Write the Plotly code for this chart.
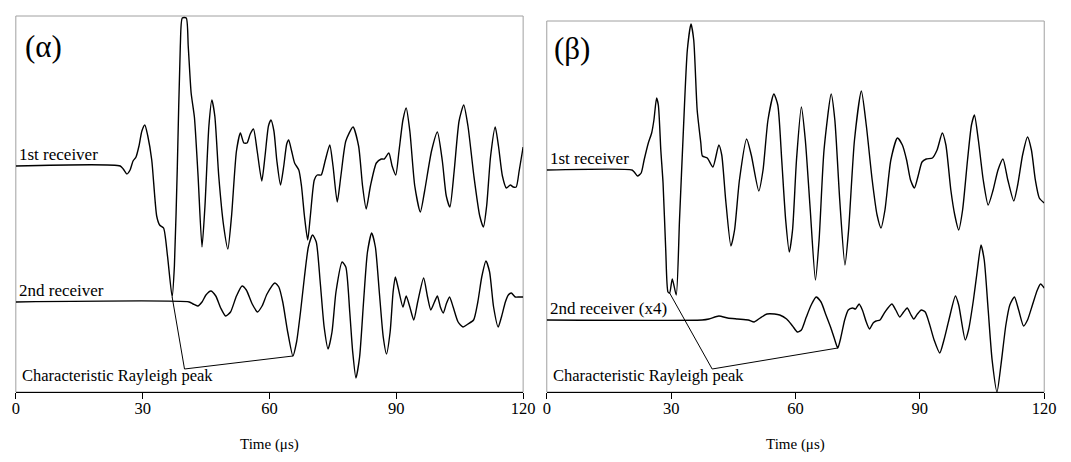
import numpy as np
import plotly.graph_objects as go

# ---------------------------------------------------------------------------
# Recorded waveforms: time in microseconds, amplitude in arbitrary units
# ---------------------------------------------------------------------------

# Panel (α) - 1st receiver
t_a1 = [0, 24.7, 25.4, 26.26, 27.03, 27.73, 28.43, 29.13, 29.82, 30.52, 31.22, 32.15,
        33.32, 34.02, 34.95, 35.88, 36.98, 37.51, 38.21, 38.91, 39.38, 40.31, 40.78,
        41.47, 42.24, 43.11, 44.04, 44.74, 45.67, 46.37, 47.07, 48.0, 49.16, 50.16,
        51.03, 52.19, 53.12, 53.94, 54.69, 55.45, 56.22, 57.09, 58.18, 58.95, 59.76,
        60.35, 61.05, 61.75, 62.61, 63.38, 64.08, 64.54, 65.24, 65.94, 66.94, 67.57,
        68.27, 69.04, 69.67, 70.6, 71.3, 72.23, 73.16, 74.26, 75.03, 76.03, 76.89,
        78.06, 79.76, 81.08, 82.02, 82.88, 83.88, 85.28, 86.44, 87.14, 88.24, 89.01,
        89.87, 90.64, 91.57, 92.34, 93.2, 94.37, 95.69, 96.7, 98.33, 99.72, 100.89,
        101.82, 102.68, 103.69, 104.85, 105.95, 106.95, 108.35, 109.74, 110.61, 111.37,
        112.31, 113.4, 114.17, 115.1, 116.03, 116.97, 117.67, 118.36, 119.06, 120.0]
v_a1 = [0, 0, -3, -8, -4, 5, 9, 20, 35, 41, 30, 6,
        -50, -59, -62, -90, -131, -100, 0, 120, 148, 148, 120,
        73, 49, -10, -81, -40, 40, 66, 50, -10, -60, -83,
        -50, 15, 33, 23, 23, 32, 37, 15, -15, 10, 40,
        46, 35, 5, -19, 0, 22, 26, 15, 3, -4, -20,
        -50, -74, -50, -14, -9, -9, 5, 21, 0, -36, -10,
        25, 39, 20, -20, -43, -20, 3, 7, 7, 13, 0,
        -9, 15, 46, 58, 35, -20, -46, -25, 15, 34, 5,
        -30, -41, -5, 45, 61, 40, -10, -50, -61, -40,
        10, 39, 20, -10, -22, -19, -21, -21, -5, 19]

# Panel (α) - 2nd receiver
t_a2 = [0, 41.01, 41.94, 43.04, 44.04, 44.97, 46.13, 47.3, 48.46, 49.63, 50.79, 52.19,
        53.52, 54.52, 55.92, 57.15, 58.25, 59.42, 61.28, 62.21, 63.14, 64.31, 65.54,
        66.41, 67.34, 68.27, 69.2, 70.2, 71.07, 72.0, 72.93, 73.86, 74.79, 75.73,
        77.19, 78.06, 78.99, 79.69, 80.45, 81.32, 82.25, 83.18, 84.18, 85.05, 85.98,
        86.91, 87.68, 88.54, 89.24, 89.77, 90.4, 91.57, 92.34, 93.2, 94.13, 95.06,
        96.46, 97.39, 98.16, 99.03, 99.72, 100.42, 101.12, 101.82, 102.59, 103.45,
        104.62, 105.78, 106.95, 108.28, 109.28, 110.21, 111.21, 112.07, 113.01, 114.1,
        114.87, 115.8, 116.5, 117.2, 118.13, 119.06, 120.0]
v_a2 = [0, 0, -2, -4, 0, 7, 11, 6, -6, -14, -10, 6,
        16, 12, -2, -10, -4, 8, 19, 15, 0, -30, -54,
        -40, -10, 25, 55, 67, 60, 20, -25, -47, -30, 10,
        40, 35, -10, -50, -76, -55, 0, 50, 69, 55, 10,
        -35, -52, -30, 10, 25, 15, -5, 6, -5, -18, 0,
        24, 5, -8, 0, 6, -5, -11, -2, 5, -5,
        -20, -25, -22, -18, 0, 25, 41, 30, -5, -25,
        -15, 0, 7, 9, 5, 5, 5]

# Panel (β) - 1st receiver
t_b1 = [0, 20.56, 21.11, 21.89, 22.77, 23.48, 24.5, 25.3, 25.85, 26.49, 26.92, 27.51,
        28.05, 28.7, 29.24, 29.64, 30.28, 31.23, 32.02, 32.96, 33.91, 34.79, 35.45,
        36.28, 37.16, 37.54, 38.73, 40.08, 41.5, 42.21, 43.16, 44.42, 45.3, 46.48,
        48.21, 49.33, 51.15, 52.17, 53.36, 54.78, 55.73, 56.68, 57.63, 58.5, 59.29,
        60.24, 61.42, 62.37, 63.56, 64.81, 65.69, 66.88, 68.61, 69.49, 70.67, 71.93,
        72.81, 74.23, 75.89, 77.07, 78.5, 79.68, 80.63, 81.58, 83.0, 84.59, 85.78,
        86.8, 87.75, 88.69, 89.64, 90.52, 91.54, 93.03, 94.15, 95.41, 96.28, 97.47,
        98.42, 99.37, 100.31, 101.5, 102.45, 103.16, 104.11, 105.29, 106.48, 107.67,
        108.85, 110.04, 111.22, 112.65, 113.6, 114.78, 115.97, 116.91, 117.86, 118.81,
        120.0]
v_b1 = [0, 0, -2, -6, -3, 10, 27, 37, 50, 72, 65, 20,
        -13, -80, -122, -123, -109, -125, -50, 40, 120, 146, 130,
        60, 27, 14, 12, 3, 25, 15, -30, -76, -60, -10,
        31, 15, -21, 0, 50, 76, 65, 10, -50, -82, -60,
        10, 63, 30, -40, -110, -70, 20, 76, 50, -30, -95,
        -60, 30, 79, 45, -10, -45, -58, -40, 10, 32, 25,
        10, -10, -18, -5, 8, 11, 12, 20, 37, 25, -20,
        -45, -60, -40, 10, 45, 55, 30, -10, -35, -20,
        0, 11, -10, -31, -15, 15, 33, 20, -10, -28,
        -33]

# Panel (β) - 2nd receiver, amplified x4
t_b2 = [0, 37.47, 39.13, 41.5, 43.64, 46.01, 48.62, 50.04, 51.46, 53.12, 54.95, 56.2,
        57.86, 59.29, 60.47, 61.42, 62.61, 63.79, 64.98, 66.16, 67.35, 68.54, 69.49,
        70.2, 70.91, 71.86, 72.73, 73.75, 74.47, 75.34, 76.13, 77.07, 77.86, 78.73,
        79.45, 80.39, 81.58, 83.24, 84.19, 85.14, 86.09, 86.96, 87.75, 88.53, 89.41,
        90.35, 91.3, 92.25, 93.44, 94.79, 95.81, 97.0, 98.58, 99.37, 100.95, 101.74,
        102.92, 103.87, 104.75, 105.53, 106.48, 107.43, 108.61, 109.56, 110.75, 111.7,
        112.81, 113.83, 115.02, 115.97, 117.15, 118.34, 119.12, 120.0]
v_b2 = [0, 0, 1, 4, 2, 1, 0, -2, 2, 6, 6, 5,
        1, -6, -12, -10, 3, 15, 23, 18, 5, -8, -20,
        -28, -18, 0, 10, 12, 11, 16, 10, -2, -9, -3,
        -1, 0, 8, 16, 10, 3, 8, 12, 6, 1, 6,
        10, 8, -3, -20, -33, -20, 0, 24, 15, -20, -10,
        20, 50, 75, 60, 10, -40, -72, -45, -5, 15,
        23, 10, -6, 0, 15, 30, 36, 32]

# Arrival time of the characteristic Rayleigh trough on each record
rayleigh_a = [36.98, 65.54]
rayleigh_b = [29.64, 70.2]

x_ticks = [0, 30, 60, 90, 120]
x_title = "Time (μs)"

# ---------------------------------------------------------------------------
# Layout constants
# ---------------------------------------------------------------------------
W, H = 1071, 462
SERIF = "Liberation Serif, Times New Roman, serif"
AXIS_BOTTOM = 392

panels = [
    dict(xa="x", ya="y", xpx=(12, 527), top=16, label="(α)", label_px=(19, 47),
         traces=[(t_a1, v_a1, 226, "1st receiver"), (t_a2, v_a2, 90, "2nd receiver")],
         rayleigh=rayleigh_a, anchor=(39.9, 23)),
    dict(xa="x2", ya="y2", xpx=(551, 1056), top=21, label="(β)", label_px=(556, 48),
         traces=[(t_b1, v_b1, 222, "1st receiver"), (t_b2, v_b2, 72, "2nd receiver (x4)")],
         rayleigh=rayleigh_b, anchor=(39.9, 23)),
]

fig = go.Figure()
shapes, annotations = [], []
layout_axes = {}

for i, p in enumerate(panels):
    xk = "xaxis" if i == 0 else "xaxis2"
    yk = "yaxis" if i == 0 else "yaxis2"
    yrange = AXIS_BOTTOM - p["top"]
    layout_axes[xk] = dict(
        domain=[p["xpx"][0] / W, p["xpx"][1] / W], range=[0, 120], anchor=p["ya"],
        tickvals=x_ticks, ticktext=[str(v) for v in x_ticks],
        ticks="outside", ticklen=6, tickcolor="black", tickwidth=1,
        showline=True, linecolor="black", linewidth=1,
        showgrid=False, zeroline=False, fixedrange=True,
        tickfont=dict(family=SERIF, size=16.5, color="black"),
        ticklabelstandoff=-5,
    )
    layout_axes[yk] = dict(
        domain=[1 - AXIS_BOTTOM / H, 1 - p["top"] / H], range=[0, yrange],
        anchor=p["xa"], visible=False, fixedrange=True,
    )

    # grey frame around the plotting area
    shapes.append(dict(type="rect", xref=f"{p['xa']} domain", yref=f"{p['ya']} domain",
                       x0=0, x1=1, y0=0, y1=1, layer="below",
                       line=dict(color="#a0a0a0", width=1)))

    for (t, v, off, name) in p["traces"]:
        y = np.asarray(v, dtype=float) + off
        fig.add_trace(go.Scatter(
            x=t, y=y, mode="lines", xaxis=p["xa"], yaxis=p["ya"],
            line=dict(color="black", width=1.4, shape="spline", smoothing=0.6),
            showlegend=False, hoverinfo="skip"))
        annotations.append(dict(
            x=0.3, y=off, xref=p["xa"], yref=p["ya"], text=name,
            showarrow=False, xanchor="left", yanchor="bottom",
            font=dict(family=SERIF, size=17, color="black")))

    # leader lines from the caption to the Rayleigh troughs
    ax0, ay0 = p["anchor"]
    for (t, v, off, _), tr in zip(p["traces"], p["rayleigh"]):
        yr = float(np.interp(tr, t, v)) + off
        shapes.append(dict(type="line", xref=p["xa"], yref=p["ya"],
                           x0=ax0, y0=ay0, x1=tr, y1=yr,
                           line=dict(color="black", width=1)))
    annotations.append(dict(
        x=1.0, y=ay0 + 5, xref=p["xa"], yref=p["ya"],
        text="Characteristic Rayleigh peak", showarrow=False,
        xanchor="left", yanchor="top",
        font=dict(family=SERIF, size=16.5, color="black")))

    # panel letter
    lx, ly = p["label_px"]
    annotations.append(dict(
        x=lx / W, y=1 - ly / H, xref="paper", yref="paper",
        text=p["label"], showarrow=False, xanchor="left", yanchor="middle",
        font=dict(family=SERIF, size=31, color="black")))

    # axis title
    annotations.append(dict(
        x=0.5, y=1 - 444 / H, xref=f"{p['xa']} domain", yref="paper",
        text=x_title, showarrow=False, xanchor="center", yanchor="middle",
        font=dict(family=SERIF, size=15, color="black")))

fig.update_layout(
    width=W, height=H, margin=dict(l=0, r=0, t=0, b=0),
    paper_bgcolor="white", plot_bgcolor="white",
    shapes=shapes, annotations=annotations, **layout_axes,
)

fig.write_html("out.html")
